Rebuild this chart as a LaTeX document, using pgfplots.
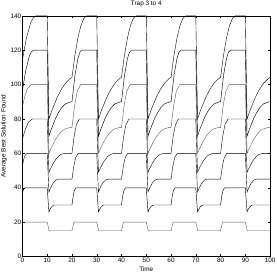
\documentclass[border=0pt]{standalone}
\usepackage{pgfplots}
\pgfplotsset{compat=1.18}
\usepackage{fontspec}
\setmainfont{Liberation Sans}
\begin{document}
\fontsize{6.5}{7.5}\selectfont
\begin{tikzpicture}
\begin{axis}[
  at={(0,0)}, anchor=south west,
  scale only axis, width=251bp, height=244bp,
  xmin=0, xmax=100, ymin=0, ymax=140,
  xtick={0,10,...,100}, ytick={0,20,...,140},
  tick align=inside, major tick length=2.5bp,
  axis line style={line width=0.5bp},
  every tick/.style={line width=0.4bp, black},
  /pgf/number format/assume math mode=true,
  tick label style={font=\fontsize{6.5}{7.5}\selectfont},
  xticklabel style={inner sep=1bp},
  yticklabel style={inner sep=1bp},
  title={Trap 3 to 4},
  title style={font=\fontsize{6.5}{7.5}\selectfont, at={(0.5,1)}, anchor=south, yshift=2bp, inner sep=1bp},
  xlabel={Time},
  xlabel style={font=\fontsize{6.5}{7.5}\selectfont, at={(0.5,0)}, anchor=north, yshift=-9bp, inner sep=1bp},
  ylabel={Average Best Solution Found},
  ylabel style={font=\fontsize{6.5}{7.5}\selectfont, at={(0,0.5)}, anchor=south, yshift=14.5bp, inner sep=1bp},
  cycle list={{black!65, line width=0.45bp, mark=none, solid}},
]
% series 1
\addplot coordinates {(0,20) (10,20) (10.8,15) (20,15) (20.8,20) (30,20) (30.8,15) (40,15) (40.8,20) (50,20) (50.8,15) (60,15) (60.8,20) (70,20) (70.8,15) (80,15) (80.8,20) (90,20) (90.8,15) (100,15)};
% series 2
\addplot coordinates {(0,37) (0.3,38.53) (0.6,39.52) (1,40)
(10,40) (10.7,26) (11.16,27.44) (11.74,28.79) (12.43,29.75) (13,30)
(20,30) (20.48,35.1) (20.96,38.4) (21.6,40)
(30,40) (30.7,26) (31.16,27.44) (31.74,28.79) (32.43,29.75) (33,30)
(40,30) (40.48,35.1) (40.96,38.4) (41.6,40)
(50,40) (50.7,26) (51.16,27.44) (51.74,28.79) (52.43,29.75) (53,30)
(60,30) (60.48,35.1) (60.96,38.4) (61.6,40)
(70,40) (70.7,26) (71.16,27.44) (71.74,28.79) (72.43,29.75) (73,30)
(80,30) (80.48,35.1) (80.96,38.4) (81.6,40)
(90,40) (90.7,26) (91.16,27.44) (91.74,28.79) (92.43,29.75) (93,30) (100,30)};
% series 3
\addplot coordinates {(0,53) (0.54,56.57) (1.08,58.88) (1.8,60)
(10,60) (10.7,37.5) (11.46,40.2) (12.41,42.73) (13.55,44.53) (14.5,45)
(20,45) (20.75,52.65) (21.5,57.6) (22.5,60)
(30,60) (30.7,37.5) (31.46,40.2) (32.41,42.73) (33.55,44.53) (34.5,45)
(40,45) (40.75,52.65) (41.5,57.6) (42.5,60)
(50,60) (50.7,37.5) (51.46,40.2) (52.41,42.73) (53.55,44.53) (54.5,45)
(60,45) (60.75,52.65) (61.5,57.6) (62.5,60)
(70,60) (70.7,37.5) (71.46,40.2) (72.41,42.73) (73.55,44.53) (74.5,45)
(80,45) (80.75,52.65) (81.5,57.6) (82.5,60)
(90,60) (90.7,37.5) (91.46,40.2) (92.41,42.73) (93.55,44.53) (94.5,45) (100,45)};
% series 4
\addplot coordinates {(0,68) (0.4,70.28) (1.2,74.12) (2.4,78.08) (4,80)
(10,80) (10.7,49) (11.33,51.09) (12.59,54.61) (13.54,56.67) (14.48,58.24) (15.43,59.31) (17,60)
(20,60) (20.9,70.2) (21.8,76.8) (23,80)
(30,80) (30.7,49) (31.33,51.09) (32.59,54.61) (33.54,56.67) (34.48,58.24) (35.43,59.31) (37,60)
(40,60) (40.9,70.2) (41.8,76.8) (43,80)
(50,80) (50.7,49) (51.33,51.09) (52.59,54.61) (53.54,56.67) (54.48,58.24) (55.43,59.31) (57,60)
(60,60) (60.9,70.2) (61.8,76.8) (63,80)
(70,80) (70.7,49) (71.33,51.09) (72.59,54.61) (73.54,56.67) (74.48,58.24) (75.43,59.31) (77,60)
(80,60) (80.9,70.2) (81.8,76.8) (83,80)
(90,80) (90.7,49) (91.33,51.09) (92.59,54.61) (93.54,56.67) (94.48,58.24) (95.43,59.31) (97,60) (100,60)};
% series 5
\addplot coordinates {(0,87) (0.35,89.47) (1.05,93.63) (2.1,97.92) (3.5,100)
(10,100) (10.7,60) (11.53,62.85) (13.19,67.65) (14.44,70.46) (15.68,72.6) (16.93,74.06) (19,75)
(20,75) (21.05,87.75) (22.1,96) (23.5,100)
(30,100) (30.7,60) (31.53,62.85) (33.19,67.65) (34.44,70.46) (35.68,72.6) (36.93,74.06) (39,75)
(40,75) (41.05,87.75) (42.1,96) (43.5,100)
(50,100) (50.7,60) (51.53,62.85) (53.19,67.65) (54.44,70.46) (55.68,72.6) (56.93,74.06) (59,75)
(60,75) (61.05,87.75) (62.1,96) (63.5,100)
(70,100) (70.7,60) (71.53,62.85) (73.19,67.65) (74.44,70.46) (75.68,72.6) (76.93,74.06) (79,75)
(80,75) (81.05,87.75) (82.1,96) (83.5,100)
(90,100) (90.7,60) (91.53,62.85) (93.19,67.65) (94.44,70.46) (95.68,72.6) (96.93,74.06) (99,75) (100,75)};
% series 6
\addplot coordinates {(0,96) (0.45,100.56) (1.35,108.24) (2.7,116.16) (3.6,119.04) (4.5,120)
(10,120) (10.7,70) (11.58,73.8) (13.34,80.2) (14.66,83.95) (15.98,86.8) (17.3,88.75) (19.5,90)
(20,90) (21.2,105.3) (22.4,115.2) (23.2,118.8) (24,120)
(30,120) (30.7,70) (31.58,73.8) (33.34,80.2) (34.66,83.95) (35.98,86.8) (37.3,88.75) (39.5,90)
(40,90) (41.2,105.3) (42.4,115.2) (43.2,118.8) (44,120)
(50,120) (50.7,70) (51.58,73.8) (53.34,80.2) (54.66,83.95) (55.98,86.8) (57.3,88.75) (59.5,90)
(60,90) (61.2,105.3) (62.4,115.2) (63.2,118.8) (64,120)
(70,120) (70.7,70) (71.58,73.8) (73.34,80.2) (74.66,83.95) (75.98,86.8) (77.3,88.75) (79.5,90)
(80,90) (81.2,105.3) (82.4,115.2) (83.2,118.8) (84,120)
(90,120) (90.7,70) (91.58,73.8) (93.34,80.2) (94.66,83.95) (95.98,86.8) (97.3,88.75) (99.5,90) (100,90)};
% series 7
\addplot coordinates {(0,114) (0.55,118.94) (1.65,127.26) (3.3,135.84) (4.4,138.96) (5.5,140)
(10,140) (10.7,80) (11.83,84.75) (14.09,92.75) (15.79,97.44) (17.48,101) (19.18,103.44)
(20,104.22) (21.2,117.1) (22.4,127.12) (23.6,134.28) (24.8,138.57) (26,140)
(30,140) (30.7,80) (31.83,84.75) (34.09,92.75) (35.79,97.44) (37.48,101) (39.18,103.44)
(40,104.22) (41.2,117.1) (42.4,127.12) (43.6,134.28) (44.8,138.57) (46,140)
(50,140) (50.7,80) (51.83,84.75) (54.09,92.75) (55.79,97.44) (57.48,101) (59.18,103.44)
(60,104.22) (61.2,117.1) (62.4,127.12) (63.6,134.28) (64.8,138.57) (66,140)
(70,140) (70.7,80) (71.83,84.75) (74.09,92.75) (75.79,97.44) (77.48,101) (79.18,103.44)
(80,104.22) (81.2,117.1) (82.4,127.12) (83.6,134.28) (84.8,138.57) (86,140)
(90,140) (90.7,80) (91.83,84.75) (94.09,92.75) (95.79,97.44) (97.48,101) (99.18,103.44) (100,104.22)};
\end{axis}
\path[use as bounding box] (-19bp,-19bp) rectangle (258bp,258bp);
\end{tikzpicture}
\end{document}
